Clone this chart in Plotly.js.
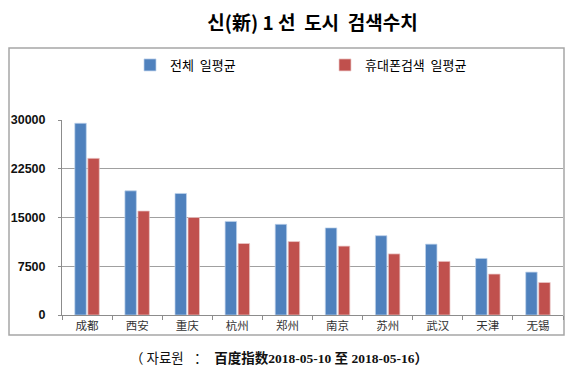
<!DOCTYPE html>
<html>
<head>
<meta charset="utf-8">
<script src="https://cdn.plot.ly/plotly-3.0.1.min.js"></script>
<style>
html,body{margin:0;padding:0;background:#fff;}
#chart{width:575px;height:374px;}
</style>
</head>
<body>
<div id="chart"></div>
<script>
// Data
var cities = ["成都", "西安", "重庆", "杭州", "郑州", "南京", "苏州", "武汉", "天津", "无锡"];
var totalDaily = [29500, 19100, 18700, 14400, 13950, 13400, 12200, 10900, 8700, 6600];
var mobileDaily = [24100, 16000, 15000, 11000, 11300, 10600, 9400, 8250, 6300, 5000];
var seriesNames = ["전체  일평균", "휴대폰검색  일평균"];
var yTicks = [0, 7500, 15000, 22500, 30000];
var titleText = "신(新) 1 선  도시  검색수치";
var sourceText = '<span style="font-family:\'Noto Sans CJK KR\';font-weight:normal">（ 자료원</span>   ：  <b>百度指数2018-05-10 至 2018-05-16）</b>';

var W = 575, H = 374;
var mL = 62, mR = 12, mT = 120, mB = 59;
var pw = W - mL - mR, ph = H - mT - mB;
function px(x) { return (x - mL) / pw; }
function py(y) { return (H - mB - y) / ph; }

var traces = [
  {
    type: "bar", x: cities, y: totalDaily, name: seriesNames[0],
    marker: { color: "#4F81BD", line: { color: "rgba(190,210,235,0.9)", width: 0.8 } }
  },
  {
    type: "bar", x: cities, y: mobileDaily, name: seriesNames[1],
    marker: { color: "#C0504D", line: { color: "rgba(235,200,200,0.9)", width: 0.8 } }
  }
];

var layout = {
  width: W, height: H,
  margin: { l: mL, r: mR, t: mT, b: mB, pad: 0 },
  paper_bgcolor: "#ffffff", plot_bgcolor: "#ffffff",
  barmode: "group", bargap: 0.48, bargroupgap: 0.12,
  title: {
    text: "<b>" + titleText + "</b>",
    font: { family: "Noto Sans CJK KR", size: 19, color: "#000" },
    x: 0.5, xref: "paper", xanchor: "center",
    y: 1 - 23 / H, yref: "container", yanchor: "middle"
  },
  showlegend: true,
  legend: {
    orientation: "h",
    x: px(130), xanchor: "left",
    y: py(50), yanchor: "top",
    entrywidth: 150, entrywidthmode: "pixels",
    font: { family: "Noto Sans CJK KR", size: 13, color: "#000" },
    bgcolor: "rgba(0,0,0,0)", borderwidth: 0,
    traceorder: "normal"
  },
  xaxis: {
    type: "category",
    showline: true, linecolor: "#8c8c8c", linewidth: 1,
    ticks: "outside", tickson: "boundaries", ticklen: 4, tickcolor: "#8c8c8c",
    tickfont: { family: "Noto Sans CJK SC", size: 11.5, color: "#333" },
    showgrid: false, fixedrange: true
  },
  yaxis: {
    range: [0, 30000], tickvals: yTicks, ticktext: yTicks.map(String),
    showgrid: true, gridcolor: "#a0a0a0", gridwidth: 1,
    showline: true, linecolor: "#8c8c8c", linewidth: 1,
    ticks: "outside", ticklen: 3, tickcolor: "#8c8c8c",
    ticklabelstandoff: 10,
    tickfont: { family: "Liberation Sans", size: 12.5, color: "#111", weight: "bold" },
    zeroline: false, fixedrange: true
  },
  shapes: [
    {
      type: "rect", xref: "paper", yref: "paper",
      x0: px(9), x1: px(564), y0: py(335), y1: py(48),
      line: { color: "#a6a6a6", width: 1.5 }, fillcolor: "rgba(0,0,0,0)", layer: "below"
    }
  ],
  annotations: [
    {
      text: sourceText, xref: "paper", yref: "paper",
      x: px(128), xanchor: "left", y: py(357), yanchor: "middle",
      showarrow: false,
      font: { family: "Liberation Serif, Noto Sans CJK SC", size: 13.5, color: "#111" }
    }
  ]
};

Plotly.newPlot("chart", traces, layout, { displayModeBar: false, staticPlot: true });
</script>
</body>
</html>
